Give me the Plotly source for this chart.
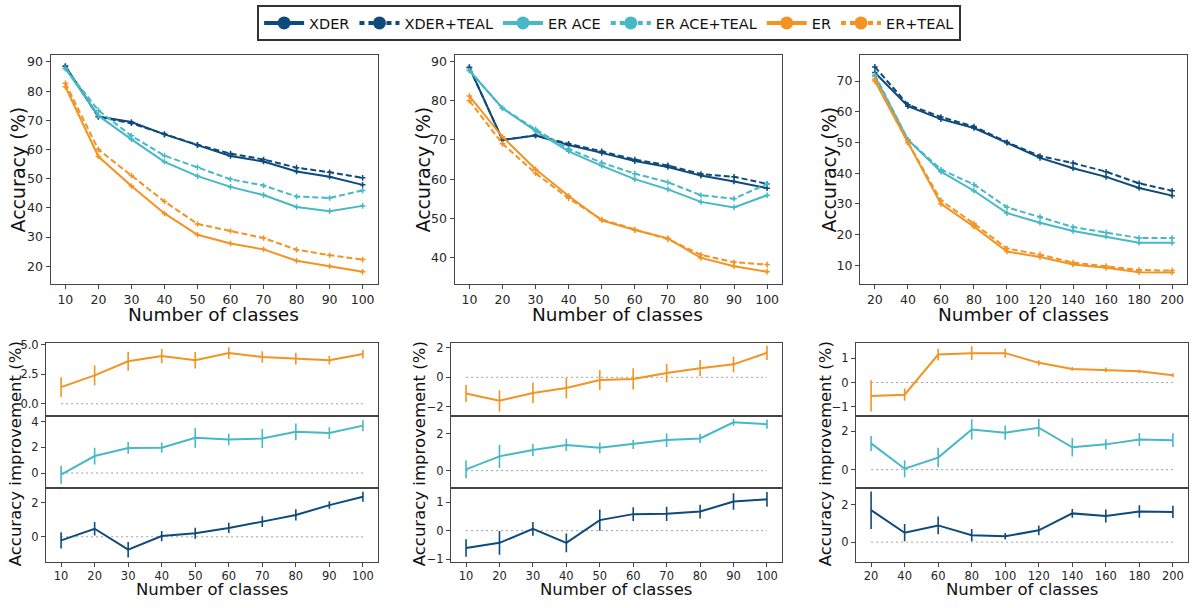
import plotly.graph_objects as go

W, H = 1192, 608
NAVY = "#0e4a7b"
CYAN = "#46b8c6"
ORANGE = "#f39322"
FONT = "DejaVu Sans"
TXT = "#262626"
FRAME = "#444444"

# ---------------- data ----------------
x100 = [10, 20, 30, 40, 50, 60, 70, 80, 90, 100]
x200 = [20, 40, 60, 80, 100, 120, 140, 160, 180, 200]

# top panel 1 (10..100)
p1_xder = [88.5, 71.3, 69.4, 65.2, 61.5, 57.8, 55.9, 52.5, 50.7, 47.9]
p1_xder_teal = [88.5, 71.2, 69.0, 65.2, 61.6, 58.6, 56.6, 53.8, 52.2, 50.3]
p1_erace = [87.8, 71.6, 63.5, 55.8, 50.9, 47.2, 44.4, 40.3, 38.9, 40.7]
p1_erace_teal = [87.8, 73.4, 64.7, 57.9, 53.9, 49.8, 47.7, 43.9, 43.4, 46.0]
p1_er = [81.5, 57.6, 47.5, 38.1, 30.8, 27.8, 25.8, 21.9, 20.0, 18.1]
p1_er_teal = [82.7, 60.0, 51.1, 42.2, 34.5, 32.1, 29.7, 25.7, 23.8, 22.3]

# top panel 2 (10..100)
p2_xder = [88.5, 70.0, 71.1, 68.7, 66.7, 64.6, 63.1, 60.9, 59.4, 57.7]
p2_xder_teal = [88.5, 70.0, 71.2, 69.0, 67.1, 65.0, 63.5, 61.3, 60.6, 58.8]
p2_erace = [87.7, 78.1, 72.3, 67.1, 63.4, 60.0, 57.4, 54.2, 52.8, 55.9]
p2_erace_teal = [87.7, 78.1, 72.7, 67.7, 64.2, 61.4, 59.2, 55.9, 55.0, 58.8]
p2_er = [81.2, 70.8, 62.5, 55.7, 49.5, 47.0, 44.9, 39.9, 37.8, 36.4]
p2_er_teal = [80.0, 69.0, 61.5, 55.1, 49.7, 47.1, 44.7, 40.7, 38.8, 38.2]

# top panel 3 (20..200)
p3_xder = [72.8, 61.8, 57.6, 54.7, 49.9, 45.0, 41.6, 38.8, 35.2, 32.7]
p3_xder_teal = [74.6, 62.3, 58.3, 55.2, 50.1, 45.6, 43.3, 40.5, 36.7, 34.3]
p3_erace = [71.6, 50.9, 40.5, 34.3, 27.0, 23.9, 21.2, 19.4, 17.4, 17.4]
p3_erace_teal = [72.0, 50.9, 41.2, 36.3, 28.9, 25.8, 22.5, 20.7, 18.9, 18.9]
p3_er = [70.0, 49.9, 30.0, 22.6, 14.5, 12.7, 10.3, 9.2, 7.8, 7.7]
p3_er_teal = [70.7, 50.1, 31.1, 23.6, 15.5, 13.5, 10.9, 9.8, 8.5, 8.3]

# bottom: accuracy improvement (mean, std)
b1_er = [1.41, 2.40, 3.59, 4.03, 3.67, 4.28, 3.95, 3.81, 3.67, 4.20]
b1_er_sd = [0.83, 0.83, 0.80, 0.60, 0.70, 0.50, 0.48, 0.50, 0.36, 0.37]
b1_erace = [-0.13, 1.32, 1.95, 1.97, 2.74, 2.60, 2.68, 3.20, 3.10, 3.68]
b1_erace_sd = [0.70, 0.65, 0.45, 0.40, 0.77, 0.45, 0.73, 0.65, 0.45, 0.42]
b1_xder = [-0.21, 0.47, -0.76, 0.04, 0.21, 0.52, 0.89, 1.28, 1.86, 2.35]
b1_xder_sd = [0.48, 0.40, 0.45, 0.30, 0.32, 0.30, 0.32, 0.33, 0.22, 0.30]

b2_er = [-1.10, -1.59, -1.06, -0.73, -0.18, -0.11, 0.29, 0.62, 0.88, 1.66]
b2_er_sd = [0.58, 0.72, 0.70, 0.70, 0.68, 0.72, 0.63, 0.55, 0.53, 0.48]
b2_erace = [0.07, 0.77, 1.12, 1.39, 1.23, 1.42, 1.65, 1.74, 2.61, 2.51]
b2_erace_sd = [0.48, 0.63, 0.33, 0.33, 0.29, 0.25, 0.37, 0.25, 0.19, 0.25]
b2_xder = [-0.61, -0.43, 0.06, -0.43, 0.37, 0.58, 0.59, 0.67, 1.02, 1.10]
b2_xder_sd = [0.31, 0.42, 0.24, 0.33, 0.37, 0.24, 0.25, 0.24, 0.29, 0.26]

b3_er = [-0.55, -0.50, 1.15, 1.21, 1.21, 0.81, 0.56, 0.52, 0.46, 0.30]
b3_er_sd = [0.64, 0.25, 0.24, 0.28, 0.19, 0.11, 0.08, 0.10, 0.07, 0.08]
b3_erace = [1.37, 0.05, 0.63, 2.10, 1.93, 2.19, 1.17, 1.32, 1.58, 1.54]
b3_erace_sd = [0.39, 0.44, 0.51, 0.53, 0.37, 0.46, 0.48, 0.27, 0.34, 0.36]
b3_xder = [1.70, 0.50, 0.89, 0.37, 0.31, 0.63, 1.53, 1.39, 1.63, 1.61]
b3_xder_sd = [1.00, 0.46, 0.47, 0.33, 0.17, 0.26, 0.23, 0.35, 0.33, 0.33]

legend_names = ["XDER", "XDER+TEAL", "ER ACE", "ER ACE+TEAL", "ER", "ER+TEAL"]

# ---------------- layout helpers ----------------
def dx(a, b):
    return [a / W, b / W]

def dy(top, bot):
    return [1 - bot / H, 1 - top / H]

fig = go.Figure()
layout = {}
annotations = []
axis_count = [0]

def base_axis(**kw):
    d = dict(showline=True, mirror=True, linecolor=FRAME, linewidth=1,
             ticks="outside", ticklen=4, tickwidth=1, tickcolor=FRAME,
             showgrid=False, zeroline=False)
    d.update(kw)
    return d

def new_axes(xdom, ydom, xrange, yrange, xticks, yticks, ytext=None,
             show_xlabels=True, tickfs=12):
    axis_count[0] += 1
    i = axis_count[0]
    xa = "xaxis" if i == 1 else f"xaxis{i}"
    ya = "yaxis" if i == 1 else f"yaxis{i}"
    xref = "x" if i == 1 else f"x{i}"
    yref = "y" if i == 1 else f"y{i}"
    layout[xa] = base_axis(domain=xdom, range=xrange, anchor=yref,
                           tickvals=xticks, showticklabels=show_xlabels,
                           ticks="outside" if show_xlabels else "",
                           tickfont=dict(family=FONT, size=tickfs, color=TXT))
    layout[ya] = base_axis(domain=ydom, range=yrange, anchor=xref,
                           tickvals=yticks, ticktext=ytext,
                           tickfont=dict(family=FONT, size=tickfs, color=TXT))
    return xref, yref

SOLID_W = 2
dash_pat = "6px,3px"

def top_panel(xdom, ydom, xs, xrange, yrange, yticks, series):
    xr, yr = new_axes(xdom, ydom, xrange, yrange, xs, yticks, tickfs=12.5)
    for ys, col, dashed in series:
        fig.add_trace(go.Scatter(
            x=xs, y=ys, xaxis=xr, yaxis=yr, mode="lines+markers",
            line=dict(color=col, width=SOLID_W, dash=dash_pat if dashed else "solid"),
            marker=dict(symbol="cross-thin", size=4, line=dict(color=col, width=1.5)),
            showlegend=False, hoverinfo="skip"))

def bottom_sub(xdom, ydom, xs, xrange, yrange, yticks, ytext, ys, sd, col, show_x):
    xr, yr = new_axes(xdom, ydom, xrange, yrange, xs, yticks, ytext,
                      show_xlabels=show_x, tickfs=11.5)
    fig.add_trace(go.Scatter(
        x=[xs[0], xs[-1]], y=[0, 0], xaxis=xr, yaxis=yr, mode="lines",
        line=dict(color="#a0a0a0", width=1, dash="2px,3px"),
        showlegend=False, hoverinfo="skip"))
    fig.add_trace(go.Scatter(
        x=xs, y=ys, xaxis=xr, yaxis=yr, mode="lines",
        line=dict(color=col, width=2),
        error_y=dict(type="data", array=sd, visible=True, color=col,
                     thickness=1.6, width=0),
        showlegend=False, hoverinfo="skip"))

# ---------------- top panels ----------------
R100 = [5.5, 104.5]
R200 = [11, 209]
top_y = dy(51, 283)
top_panel(dx(50.5, 377.5), top_y, x100, R100, [14.0, 92.3],
          [20, 30, 40, 50, 60, 70, 80, 90],
          [(p1_xder, NAVY, False), (p1_xder_teal, NAVY, True),
           (p1_erace, CYAN, False), (p1_erace_teal, CYAN, True),
           (p1_er, ORANGE, False), (p1_er_teal, ORANGE, True)])
top_panel(dx(454.5, 782), top_y, x100, R100, [33.3, 91.6],
          [40, 50, 60, 70, 80, 90],
          [(p2_xder, NAVY, False), (p2_xder_teal, NAVY, True),
           (p2_erace, CYAN, False), (p2_erace_teal, CYAN, True),
           (p2_er, ORANGE, False), (p2_er_teal, ORANGE, True)])
top_panel(dx(860, 1187), top_y, x200, R200, [4.0, 78.4],
          [10, 20, 30, 40, 50, 60, 70],
          [(p3_xder, NAVY, False), (p3_xder_teal, NAVY, True),
           (p3_erace, CYAN, False), (p3_erace_teal, CYAN, True),
           (p3_er, ORANGE, False), (p3_er_teal, ORANGE, True)])

# ---------------- bottom panels ----------------
b_rows = [(343, 417), (417, 490.5), (490.5, 565)]

# panel 1
bx = dx(46, 378)
bottom_sub(bx, dy(*b_rows[0]), x100, R100, [-1.02, 5.14], [0, 2.5, 5.0],
           ["0.0", "2.5", "5.0"], b1_er, b1_er_sd, ORANGE, False)
bottom_sub(bx, dy(*b_rows[1]), x100, R100, [-1.18, 4.44], [0, 2, 4], None,
           b1_erace, b1_erace_sd, CYAN, False)
bottom_sub(bx, dy(*b_rows[2]), x100, R100, [-1.46, 2.85], [0, 2], None,
           b1_xder, b1_xder_sd, NAVY, True)
# panel 2
bx = dx(451, 782)
bottom_sub(bx, dy(*b_rows[0]), x100, R100, [-2.61, 2.33], [-2, 0, 2], None,
           b2_er, b2_er_sd, ORANGE, False)
bottom_sub(bx, dy(*b_rows[1]), x100, R100, [-0.95, 2.96], [0, 2], None,
           b2_erace, b2_erace_sd, CYAN, False)
bottom_sub(bx, dy(*b_rows[2]), x100, R100, [-1.09, 1.49], [-1, 0, 1], None,
           b2_xder, b2_xder_sd, NAVY, True)
# panel 3
bx = dx(856, 1188)
bottom_sub(bx, dy(*b_rows[0]), x200, R200, [-1.37, 1.63], [-1, 0, 1], None,
           b3_er, b3_er_sd, ORANGE, False)
bottom_sub(bx, dy(*b_rows[1]), x200, R200, [-0.97, 2.81], [0, 2], None,
           b3_erace, b3_erace_sd, CYAN, False)
bottom_sub(bx, dy(*b_rows[2]), x200, R200, [-1.04, 2.87], [0, 2], None,
           b3_xder, b3_xder_sd, NAVY, True)

# ---------------- legend (dummy traces) ----------------
leg_cols = [NAVY, NAVY, CYAN, CYAN, ORANGE, ORANGE]
for i, name in enumerate(legend_names):
    dashed = (i % 2 == 1)
    fig.add_trace(go.Scatter(
        x=[None], y=[None], xaxis="x", yaxis="y", mode="lines+markers", name=name,
        line=dict(color=leg_cols[i], width=4, dash="5px,4px" if dashed else "solid"),
        marker=dict(symbol="circle", size=13, color=leg_cols[i]),
        showlegend=True))

# ---------------- titles as annotations ----------------
def ann(text, x, y, size, angle=0):
    annotations.append(dict(text=text, x=x / W, y=1 - y / H, xref="paper", yref="paper",
                            showarrow=False, textangle=angle,
                            font=dict(family=FONT, size=size, color="#111111"),
                            xanchor="center", yanchor="middle"))

for cx in [213, 618, 1023]:
    ann("Number of classes", cx, 314, 18.5)
ann("Accuracy (%)", 18, 167, 19, -90)
ann("Accuracy (%)", 423, 167, 19, -90)
ann("Accuracy (%)", 829, 167, 19, -90)
for cx in [212, 616, 1022]:
    ann("Number of classes", cx, 593, 16.5)
for cx in [15, 419, 825]:
    ann("Accuracy improvement (%)", cx, 456, 16.5, -90)

layout.update(dict(
    width=W, height=H, margin=dict(l=0, r=0, t=0, b=0),
    paper_bgcolor="white", plot_bgcolor="white",
    font=dict(family=FONT, color=TXT),
    annotations=annotations,
    legend=dict(orientation="h", x=0.511, xanchor="center", y=1.0, yanchor="top",
                bordercolor="#333333", borderwidth=2, bgcolor="white",
                font=dict(family=FONT, size=14.5, color="#111111"),
                itemwidth=40, tracegroupgap=0),
))
fig.update_layout(**layout)
fig.write_html("out.html")
